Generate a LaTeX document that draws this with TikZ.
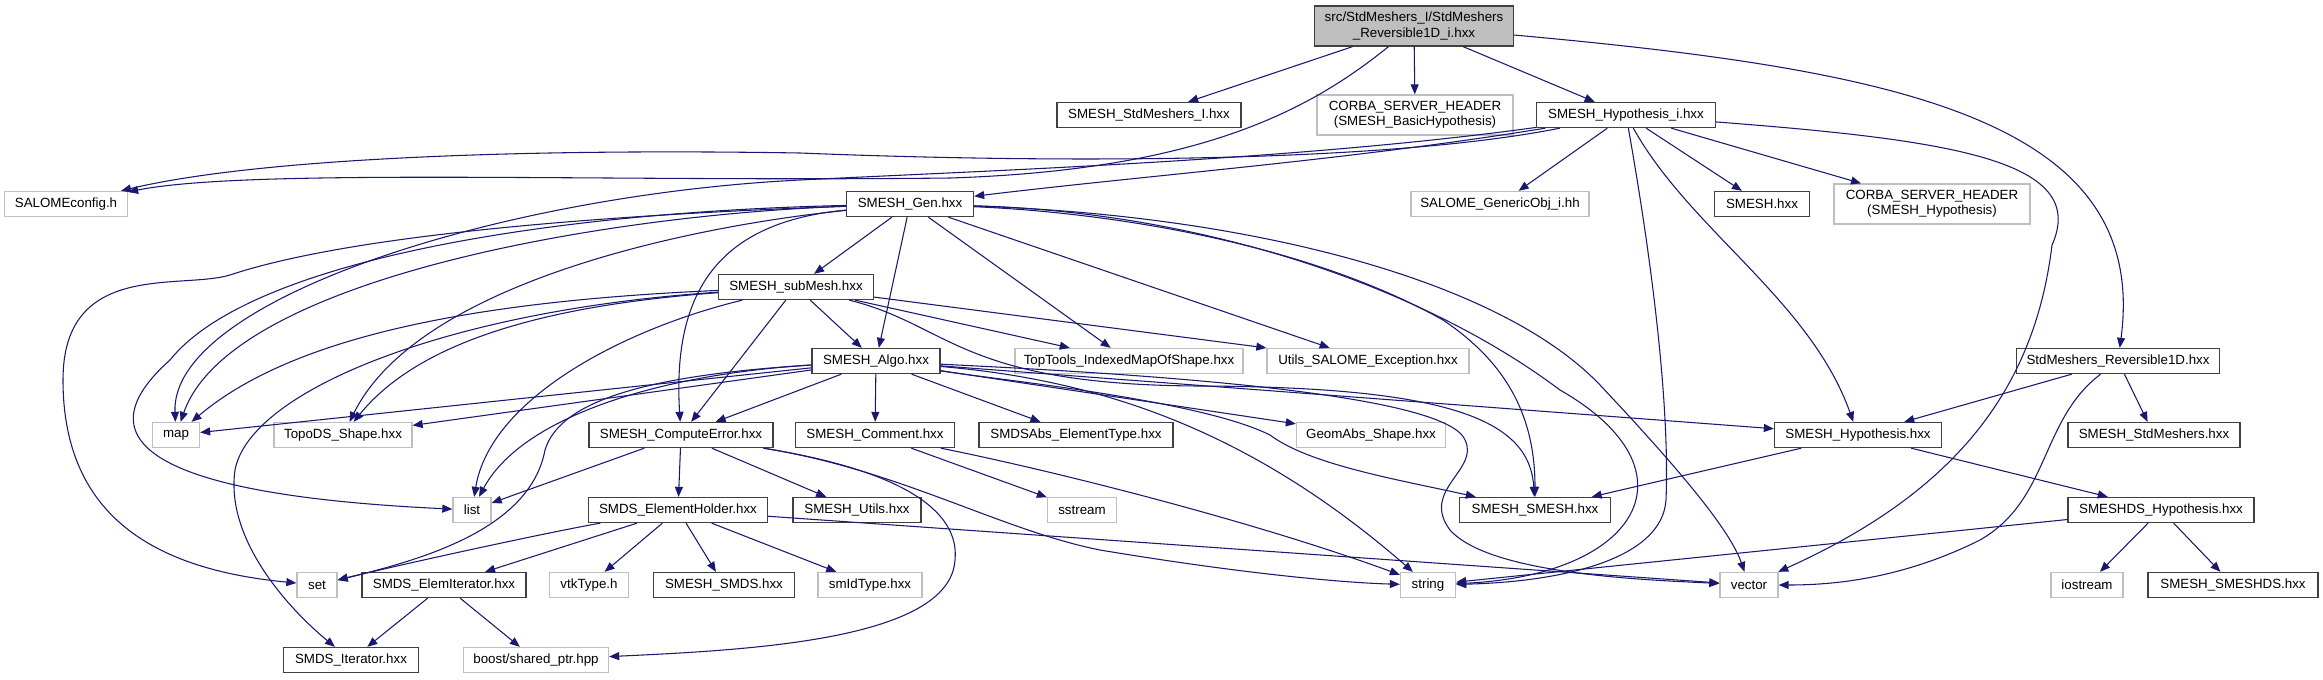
\documentclass[tikz,border=0pt]{standalone}
\usepackage{fontspec}
\setmainfont{Liberation Sans}
\usetikzlibrary{arrows.meta}
\definecolor{edgeblue}{HTML}{191970}

\begin{document}
\begin{tikzpicture}[x=0.75pt, y=-0.75pt, >={Triangle[length=7.5pt,width=6pt]},
    box/.style={draw, fill=white, line width=1pt, inner sep=0pt, minimum height=18.75pt,
      font=\fontsize{10}{11.5}\selectfont, align=center},
    dnode/.style={box, draw=black!75},
    xnode/.style={box, draw=black!25},
    bw/.style={minimum width=#1*0.75pt},
    tall/.style={minimum height=30pt},
    dep/.style={->, draw=edgeblue, line width=0.8pt}]
    \path[use as bounding box, fill=white] (0,0) rectangle (2323,679);

    % 节点 (按层)
    \node[dnode, tall, bw=199, fill=black!25] (root) at (1414,26) {src/StdMeshers\_I/StdMeshers\\\_Reversible1D\_i.hxx};
    \node[dnode, bw=184] (stdmi) at (1149,115) {SMESH\_StdMeshers\_I.hxx};
    \node[xnode, tall, bw=196] (corbabasic) at (1415,115) {CORBA\_SERVER\_HEADER\\(SMESH\_BasicHypothesis)};
    \node[dnode, bw=179] (hypi) at (1626,115) {SMESH\_Hypothesis\_i.hxx};

    \node[xnode, bw=123] (salomecfg) at (66,204) {SALOMEconfig.h};
    \node[dnode, bw=127] (gen) at (910,204) {SMESH\_Gen.hxx};
    \node[xnode, bw=178] (genobj) at (1500,204) {SALOME\_GenericObj\_i.hh};
    \node[dnode, bw=95] (smeshhxx) at (1762,204) {SMESH.hxx};
    \node[xnode, tall, bw=196] (corbahyp) at (1932,204) {CORBA\_SERVER\_HEADER\\(SMESH\_Hypothesis)};

    \node[dnode, bw=155] (submesh) at (796,287) {SMESH\_subMesh.hxx};

    \node[dnode, bw=128] (algo) at (876,361) {SMESH\_Algo.hxx};
    \node[xnode, bw=228] (toptools) at (1129,361) {TopTools\_IndexedMapOfShape.hxx};
    \node[xnode, bw=202] (utilsexc) at (1368,361) {Utils\_SALOME\_Exception.hxx};
    \node[dnode, bw=203] (rev1d) at (2118,361) {StdMeshers\_Reversible1D.hxx};

    \node[xnode, bw=47] (map) at (176,435) {map};
    \node[xnode, bw=138] (topods) at (343,435) {TopoDS\_Shape.hxx};
    \node[dnode, bw=184] (comperr) at (681,435) {SMESH\_ComputeError.hxx};
    \node[dnode, bw=159] (comment) at (875,435) {SMESH\_Comment.hxx};
    \node[dnode, bw=194] (elemtype) at (1076,435) {SMDSAbs\_ElementType.hxx};
    \node[xnode, bw=149] (geomabs) at (1371,435) {GeomAbs\_Shape.hxx};
    \node[dnode, bw=167] (hypo) at (1858,435) {SMESH\_Hypothesis.hxx};
    \node[dnode, bw=172] (stdm) at (2154,435) {SMESH\_StdMeshers.hxx};

    \node[xnode, bw=38] (list) at (472,510) {list};
    \node[dnode, bw=179] (holder) at (678,510) {SMDS\_ElementHolder.hxx};
    \node[dnode, bw=128] (utils) at (857,510) {SMESH\_Utils.hxx};
    \node[xnode, bw=69] (sstream) at (1082,510) {sstream};
    \node[dnode, bw=151] (smeshsmesh) at (1535,510) {SMESH\_SMESH.hxx};
    \node[dnode, bw=186] (dshyp) at (2161,510) {SMESHDS\_Hypothesis.hxx};

    \node[xnode, bw=40] (set) at (317,585) {set};
    \node[dnode, bw=164] (elemit) at (444,585) {SMDS\_ElemIterator.hxx};
    \node[xnode, bw=79] (vtk) at (589,585) {vtkType.h};
    \node[dnode, bw=141] (smds) at (724,585) {SMESH\_SMDS.hxx};
    \node[xnode, bw=104] (smid) at (870,585) {smIdType.hxx};
    \node[xnode, bw=55] (string) at (1428,585) {string};
    \node[xnode, bw=58] (vector) at (1749,585) {vector};
    \node[xnode, bw=72] (iostream) at (2087,585) {iostream};
    \node[dnode, bw=170] (smeshds) at (2233,585) {SMESH\_SMESHDS.hxx};

    \node[dnode, bw=135] (iter) at (351,660) {SMDS\_Iterator.hxx};
    \node[xnode, bw=145] (boost) at (536,660) {boost/shared\_ptr.hpp};

    % 根文件
    \draw[dep] (root) -- (stdmi);
    \draw[dep] (root) -- (corbabasic);
    \draw[dep] (root) -- (hypi);
    \draw[dep] (root) .. controls (1900,70) and (2150,120) .. (rev1d);
    \draw[dep] (root) .. controls (1310,110) and (1200,170) .. (950,178) .. controls (600,182) and (250,168) .. (salomecfg);

    % SMESH_Hypothesis_i.hxx
    \draw[dep] (hypi) .. controls (1400,160) and (1100,165) .. (800,153) .. controls (500,148) and (250,160) .. (salomecfg);
    \draw[dep] (hypi) .. controls (1300,160) and (1000,170) .. (800,180) .. controls (500,195) and (170,300) .. (map);
    \draw[dep] (hypi) .. controls (1350,160) and (1150,175) .. (gen);
    \draw[dep] (hypi) -- (genobj);
    \draw[dep] (hypi) -- (smeshhxx);
    \draw[dep] (hypi) -- (corbahyp);
    \draw[dep] (hypi) .. controls (1690,230) and (1810,300) .. (hypo);
    \draw[dep] (hypi) .. controls (1650,250) and (1670,400) .. (1666,500) .. controls (1662,560) and (1560,582) .. (string);
    \draw[dep] (hypi) .. controls (1950,140) and (2090,160) .. (2052,245) .. controls (2035,385) and (1960,490) .. (vector);

    % SMESH_Gen.hxx
    \draw[dep] (gen) -- (submesh);
    \draw[dep] (gen) -- (algo);
    \draw[dep] (gen) -- (toptools);
    \draw[dep] (gen) -- (utilsexc);
    \draw[dep] (gen) .. controls (720,222) and (672,290) .. (comperr);
    \draw[dep] (gen) .. controls (1100,212) and (1300,240) .. (1443,320) .. controls (1510,365) and (1535,420) .. (smeshsmesh);
    \draw[dep] (gen) .. controls (1200,212) and (1420,285) .. (1560,390) .. controls (1700,470) and (1640,575) .. (string);
    \draw[dep] (gen) .. controls (1250,215) and (1500,280) .. (1600,385) .. controls (1680,470) and (1730,530) .. (vector);
    \draw[dep] (gen) .. controls (600,215) and (230,280) .. (map);
    \draw[dep] (gen) .. controls (700,225) and (420,280) .. (topods);
    \draw[dep] (gen) .. controls (550,212) and (250,260) .. (170,360) .. controls (80,440) and (150,495) .. (list);
    \draw[dep] (gen) .. controls (600,215) and (350,235) .. (230,275) .. controls (180,290) and (63,260) .. (63,380) .. controls (63,520) and (160,570) .. (set);

    % SMESH_subMesh.hxx
    \draw[dep] (submesh) -- (algo);
    \draw[dep] (submesh) -- (comperr);
    \draw[dep] (submesh) -- (toptools);
    \draw[dep] (submesh) -- (utilsexc);
    \draw[dep] (submesh) .. controls (950,325) and (960,385) .. (1200,386) .. controls (1450,387) and (1530,420) .. (smeshsmesh);
    \draw[dep] (submesh) .. controls (500,300) and (300,330) .. (map);
    \draw[dep] (submesh) .. controls (550,305) and (420,340) .. (topods);
    \draw[dep] (submesh) .. controls (620,330) and (490,400) .. (list);
    \draw[dep] (submesh) .. controls (450,310) and (250,390) .. (235,470) .. controls (225,540) and (290,610) .. (iter);

    % SMESH_Algo.hxx
    \draw[dep] (algo) -- (comment);
    \draw[dep] (algo) -- (comperr);
    \draw[dep] (algo) -- (elemtype);
    \draw[dep] (algo) -- (geomabs);
    \draw[dep] (algo) -- (hypo);
    \draw[dep] (algo) -- (map);
    \draw[dep] (algo) -- (topods);
    \draw[dep] (algo) .. controls (1000,380) and (1200,400) .. (1270,435) .. controls (1310,465) and (1400,480) .. (smeshsmesh);
    \draw[dep] (algo) .. controls (1100,380) and (1250,430) .. (string);
    \draw[dep] (algo) .. controls (1100,372) and (1445,390) .. (1465,440) .. controls (1480,470) and (1420,490) .. (1450,530) .. controls (1490,575) and (1650,580) .. (vector);
    \draw[dep] (algo) .. controls (650,375) and (520,420) .. (list);
    \draw[dep] (algo) .. controls (650,375) and (560,400) .. (545,450) .. controls (530,530) and (420,560) .. (set);

    % SMESH_ComputeError.hxx, SMESH_Comment.hxx
    \draw[dep] (comperr) -- (holder);
    \draw[dep] (comperr) -- (utils);
    \draw[dep] (comperr) -- (list);
    \draw[dep] (comperr) .. controls (900,470) and (1000,530) .. (1100,550) .. controls (1250,575) and (1350,583) .. (string);
    \draw[dep] (comperr) .. controls (900,470) and (960,510) .. (955,560) .. controls (950,640) and (750,650) .. (boost);
    \draw[dep] (comment) -- (sstream);
    \draw[dep] (comment) .. controls (1050,470) and (1250,520) .. (string);

    % SMDS_ElementHolder.hxx, SMDS_ElemIterator.hxx
    \draw[dep] (holder) .. controls (560,530) and (420,560) .. (set);
    \draw[dep] (holder) -- (elemit);
    \draw[dep] (holder) -- (vtk);
    \draw[dep] (holder) -- (smds);
    \draw[dep] (holder) -- (smid);
    \draw[dep] (holder) -- (vector);
    \draw[dep] (elemit) -- (iter);
    \draw[dep] (elemit) -- (boost);

    % 右侧
    \draw[dep] (rev1d) -- (hypo);
    \draw[dep] (rev1d) -- (stdm);
    \draw[dep] (rev1d) .. controls (2040,420) and (2050,500) .. (1980,540) .. controls (1900,580) and (1830,585) .. (vector);
    \draw[dep] (hypo) -- (smeshsmesh);
    \draw[dep] (hypo) -- (dshyp);
    \draw[dep] (dshyp) -- (iostream);
    \draw[dep] (dshyp) -- (smeshds);
    \draw[dep] (dshyp) -- (string);
\end{tikzpicture}
\end{document}
